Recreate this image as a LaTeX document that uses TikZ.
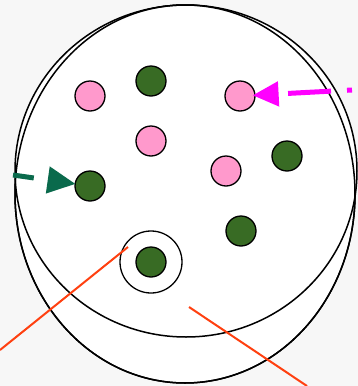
\documentclass[tikz,border=0pt]{standalone}
\usetikzlibrary{arrows.meta, positioning}
\definecolor{dotpink}{HTML}{FF99CC}
\definecolor{dotgreen}{HTML}{386B24}
\definecolor{inmag}{HTML}{FF00FF}
\definecolor{inteal}{HTML}{0A6A4C}
\definecolor{cutred}{HTML}{FF4010}
\begin{document}
\begin{tikzpicture}[x=1pt, y=-1pt, >=stealth]
        \tikzstyle{pinkdot} = [circle, draw, line width=1.3pt, fill=dotpink, minimum size=30pt, inner sep=0pt]
        \tikzstyle{greendot} = [circle, draw, line width=1.3pt, fill=dotgreen, minimum size=30pt, inner sep=0pt]
        \tikzstyle{wall} = [draw, line width=1.5pt, fill=white]
        \tikzstyle{cut} = [draw=cutred, line width=2pt]

        \useasboundingbox (0,0) rectangle (358,386);
        \fill [black!3] (0,0) rectangle (358,386);

        % cell bodies
        \path [wall] (185,194) ellipse [x radius=170, y radius=189];
        \path [wall] (186,171) ellipse [x radius=171, y radius=166];
        \draw [line width=1.5pt] (185,194) ellipse [x radius=170, y radius=189];

        \node [pinkdot] (p1) at (90,96) {};
        \node [pinkdot] (p2) at (240,96) {};
        \node [pinkdot] (p3) at (151,141) {};
        \node [pinkdot] (p4) at (226,171) {};

        \node [greendot] (g1) at (151,81) {};
        \node [greendot] (g2) at (287,156) {};
        \node [greendot] (g3) at (90,186) {};
        \node [greendot] (g4) at (241,231) {};
        \node [greendot] (g5) at (151,262) {};
        \node [circle, draw, line width=1.3pt, minimum size=62pt, inner sep=0pt] (ring) at (g5) {};

        \coordinate (magin) at (352,90);
        \coordinate (tealin) at (13,175);
        \draw [-{Triangle[length=26pt, width=24pt]}, inmag, line width=5pt, dash pattern=on 5pt off 16pt on 43pt off 20pt, shorten >=-3pt] (magin) -- (p2);
        \draw [-{Triangle[length=28pt, width=26pt]}, inteal, line width=5pt, dash pattern=on 21pt off 30pt, shorten >=-1pt] (tealin) -- (g3);

        \coordinate (cutA) at (0,350);
        \coordinate (cutB) at (128,247);
        \coordinate (cutC) at (189,307);
        \coordinate (cutD) at (307,386);
        \draw [cut] (cutA) -- (cutB);
        \draw [cut] (cutC) -- (cutD);
    \end{tikzpicture}
\end{document}
